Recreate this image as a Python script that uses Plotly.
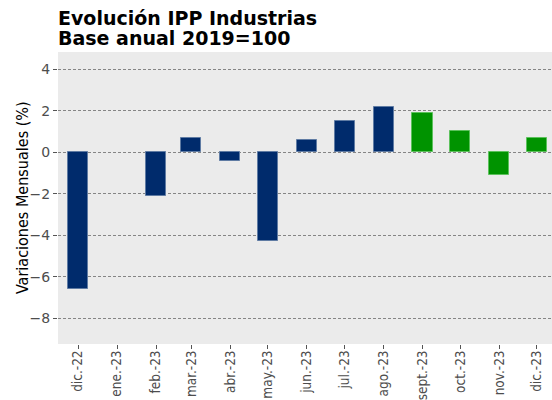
import plotly.graph_objects as go

fechas = ["2022-12-01", "2023-01-01", "2023-02-01", "2023-03-01", "2023-04-01",
          "2023-05-01", "2023-06-01", "2023-07-01", "2023-08-01", "2023-09-01",
          "2023-10-01", "2023-11-01", "2023-12-01"]
etiquetas = ["dic.-22", "ene.-23", "feb.-23", "mar.-23", "abr.-23", "may.-23",
             "jun.-23", "jul.-23", "ago.-23", "sept.-23", "oct.-23", "nov.-23", "dic.-23"]
variaciones = [-6.6, None, -2.1, 0.7, -0.4, -4.3, 0.6, 1.5, 2.2, 1.9, 1.0, -1.1, 0.7]
grupo = ["azul"] * 9 + ["verde"] * 4
titulo = ["Evolución IPP Industrias", "Base anual 2019=100"]
titulo_y = "Variaciones Mensuales (%)"

relleno = {"azul": "#002B6C", "verde": "#009300"}
borde = {"azul": "#5F7BA3", "verde": "#5CC15C"}

fig = go.Figure()
fig.add_trace(go.Bar(
    x=fechas, y=variaciones,
    width=16 * 86400000,
    marker=dict(color=[relleno[g] for g in grupo],
                line=dict(color=[borde[g] for g in grupo], width=1)),
    hoverinfo="x+y",
))

narrow = "DejaVu Sans Condensed, Liberation Sans Narrow, sans-serif"
wide = "DejaVu Sans, Verdana, sans-serif"

W, H = 552, 400
T, B, L = 52, 56, 58
plot_h = H - T - B
plot_w = W - L


def py(px):
    return (H - B - px) / plot_h


def px_(x):
    return (x - L) / plot_w


fig.update_layout(
    width=W, height=H,
    margin=dict(l=L, r=0, t=T, b=B, autoexpand=False),
    paper_bgcolor="white",
    plot_bgcolor="#EBEBEB",
    showlegend=False,
    bargap=0,
    annotations=[
        dict(text="<b>%s</b>" % titulo[0], font=dict(family=wide, size=19, color="black"),
             xref="paper", yref="paper", x=px_(56), y=py(18.5), xanchor="left",
             yanchor="middle", showarrow=False),
        dict(text="<b>%s</b>" % titulo[1], font=dict(family=wide, size=19, color="black"),
             xref="paper", yref="paper", x=px_(56), y=py(37.5), xanchor="left",
             yanchor="middle", showarrow=False),
        dict(text=titulo_y, font=dict(family=narrow, size=16, color="black"),
             textangle=-90, xref="paper", yref="paper", x=px_(22), y=py(198),
             xanchor="center", yanchor="middle", showarrow=False),
    ],
    xaxis=dict(
        type="date",
        range=["2022-11-15", "2023-12-13"],
        tickvals=fechas, ticktext=etiquetas,
        tickangle=-90,
        showgrid=False, zeroline=False, showline=False,
        ticks="outside", ticklen=4, tickcolor="#555555", tickwidth=1,
        ticklabelstandoff=-4,
        tickfont=dict(family=narrow, size=13.5, color="#4D4D4D"),
        automargin=False,
    ),
    yaxis=dict(
        range=[-9.24, 4.83],
        tickvals=[-8, -6, -4, -2, 0, 2, 4],
        showgrid=True, gridcolor="#858585", griddash="3px,2px", gridwidth=1,
        zeroline=False, showline=False,
        ticks="outside", ticklen=4, tickcolor="#555555", tickwidth=1,
        tickfont=dict(family=wide, size=14, color="#4D4D4D"),
        automargin=False,
    ),
)

fig.write_html("out.html", config={"displayModeBar": False},
               post_script="document.body.style.margin='0';")
